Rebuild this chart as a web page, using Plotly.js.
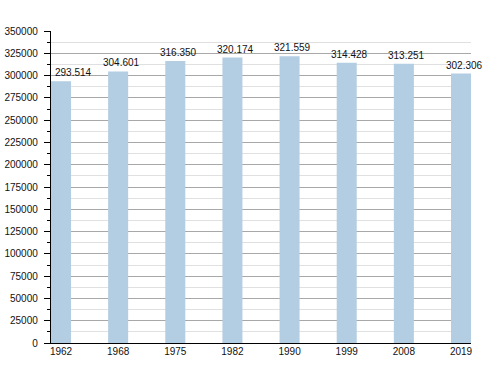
<!DOCTYPE html>
<html>
<head>
<meta charset="utf-8">
<script src="https://cdn.plot.ly/plotly-3.0.1.min.js"></script>
<style>html,body{margin:0;padding:0;background:#fff;}#chart{width:500px;height:373px;}</style>
</head>
<body>
<div id="chart"></div>
<script>
const years = ['1962', '1968', '1975', '1982', '1990', '1999', '2008', '2019'];
const population = [293514, 304601, 316350, 320174, 321559, 314428, 313251, 302306];
const valueLabels = ['293.514', '304.601', '316.350', '320.174', '321.559', '314.428', '313.251', '302.306'];
const yTickVals = [0, 25000, 50000, 75000, 100000, 125000, 150000, 175000, 200000, 225000, 250000, 275000, 300000, 325000, 350000];

const FONT = 'Liberation Sans, Arial, sans-serif';

const trace = {
  type: 'bar',
  x: years,
  y: population,
  width: 0.35,
  marker: {color: '#b3cde3', line: {width: 0}},
  hoverinfo: 'none'
};

const annotations = years.map((yr, i) => ({
  x: i,
  y: population[i],
  xref: 'x',
  yref: 'y',
  text: valueLabels[i],
  showarrow: false,
  xanchor: 'center',
  yanchor: 'bottom',
  xshift: i === 0 ? 12 : 3,
  yshift: 1,
  font: {family: FONT, size: 10, color: '#111'}
}));

const layout = {
  width: 500,
  height: 373,
  margin: {l: 51, r: 29, t: 31, b: 30},
  paper_bgcolor: '#fff',
  plot_bgcolor: '#fff',
  showlegend: false,
  font: {family: FONT, size: 10, color: '#111'},
  annotations: annotations,
  xaxis: {
    type: 'category',
    range: [-0.175, 7.175],
    showgrid: false,
    showline: true,
    linecolor: '#000',
    linewidth: 1.2,
    ticks: '',
    ticklabelstandoff: -1,
    zeroline: false,
    fixedrange: true
  },
  yaxis: {
    range: [0, 350000],
    tickvals: yTickVals,
    ticktext: yTickVals.map(String),
    showline: true,
    linecolor: '#000',
    linewidth: 1.2,
    ticks: 'outside',
    ticklen: 6,
    tickwidth: 1,
    tickcolor: '#000',
    showgrid: true,
    gridcolor: '#a8a8a8',
    gridwidth: 1,
    zeroline: false,
    ticklabelstandoff: 4,
    minor: {
      dtick: 12500,
      tick0: 0,
      showgrid: true,
      gridcolor: '#e0e0e0',
      gridwidth: 1,
      ticks: 'outside',
      ticklen: 3,
      tickcolor: '#000'
    },
    fixedrange: true
  }
};

Plotly.newPlot('chart', [trace], layout, {displayModeBar: false, staticPlot: true});
</script>
</body>
</html>
